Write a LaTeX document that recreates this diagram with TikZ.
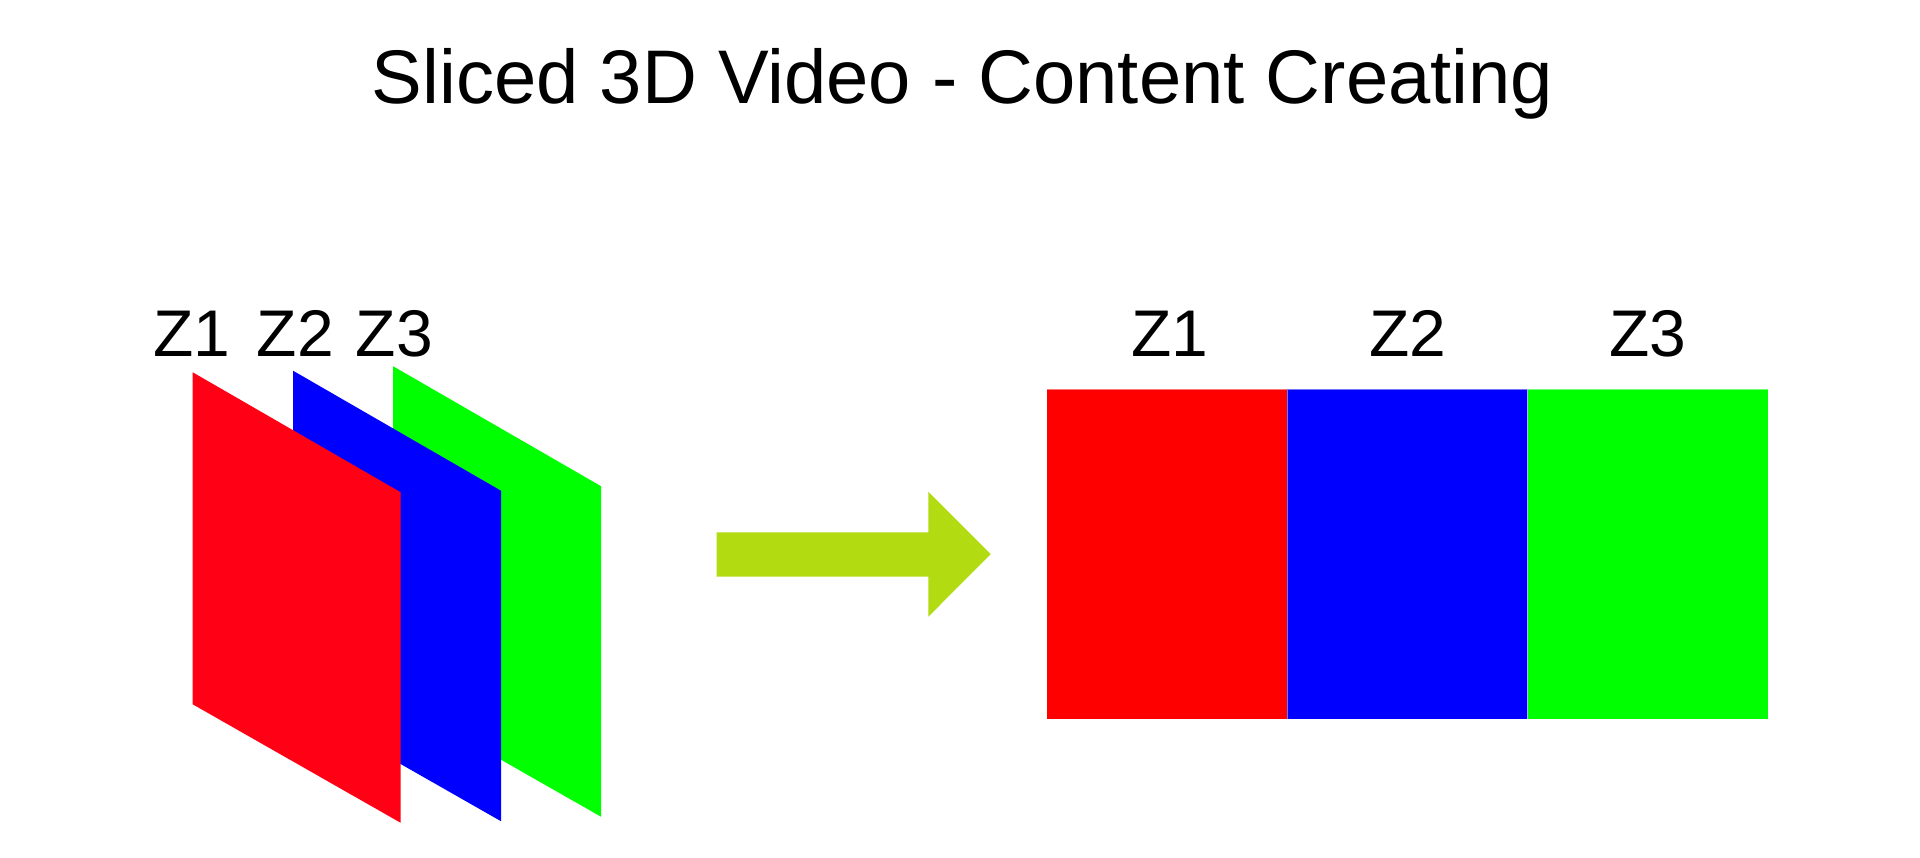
\documentclass[tikz,border=0pt]{standalone}
\usepackage{fontspec}
\setmainfont{Liberation Sans}
\definecolor{slicered}{RGB}{255,0,20}
\definecolor{pureRed}{RGB}{255,0,0}
\definecolor{pureBlue}{RGB}{0,0,255}
\definecolor{pureGreen}{RGB}{0,255,0}
\definecolor{arrowgreen}{RGB}{178,219,17}
\tikzset{
  titletext/.style={inner sep=0pt, font=\fontsize{76}{80}\selectfont},
  zlabel/.style={inner sep=0pt, font=\fontsize{66}{70}\selectfont},
  slab/.style={draw=white, draw opacity=0.45, line width=1, inner sep=0pt, minimum width=240.6, minimum height=330},
}
\begin{document}
\begin{tikzpicture}[x=1pt,y=-1pt]
\useasboundingbox[fill=white] (0,0) rectangle (1920,857);

% title
\node[titletext, anchor=base] (title) at (962.5,103) {Sliced 3D Video - Content Creating};

% left stacked slices (back to front)
\fill[pureGreen] (393.2,366.3) coordinate (g1) -- (601,486.2) coordinate (g2) -- (601,816.7) coordinate (g3) -- (393.2,698.3) coordinate (g4) -- cycle;
\fill[pureBlue] (293.2,370.8) coordinate (b1) -- (501,490.7) coordinate (b2) -- (501,821.2) coordinate (b3) -- (293.2,702.8) coordinate (b4) -- cycle;
\fill[slicered] (192.7,372.3) coordinate (r1) -- (400.5,492.2) coordinate (r2) -- (400.5,822.7) coordinate (r3) -- (192.7,704.3) coordinate (r4) -- cycle;

% left labels
\node[zlabel, anchor=base west] (lz1) at (153,356.8) {Z1};
\node[zlabel, anchor=base west] (lz2) at (256.5,356.8) {Z2};
\node[zlabel, anchor=base west] (lz3) at (355.5,356.8) {Z3};

% big arrow
\fill[arrowgreen] (716.7,532.3) coordinate (a0) -- (928.3,532.3) -- (928.3,491.7) -- (990.7,554.2) coordinate (tip) -- (928.3,616.7) -- (928.3,576.7) -- (716.7,576.7) -- cycle;

% right side: slices laid side by side
\node[slab, fill=pureRed] (rr) at (1167,554.3) {};
\node[slab, fill=pureBlue] (rb) at (1407.5,554.3) {};
\node[slab, fill=pureGreen] (rg) at (1648,554.3) {};

\node[zlabel, anchor=base] (rz1) at (1169.5,356.8) {Z1};
\node[zlabel, anchor=base] (rz2) at (1407.5,356.8) {Z2};
\node[zlabel, anchor=base] (rz3) at (1648,356.8) {Z3};
\end{tikzpicture}
\end{document}
